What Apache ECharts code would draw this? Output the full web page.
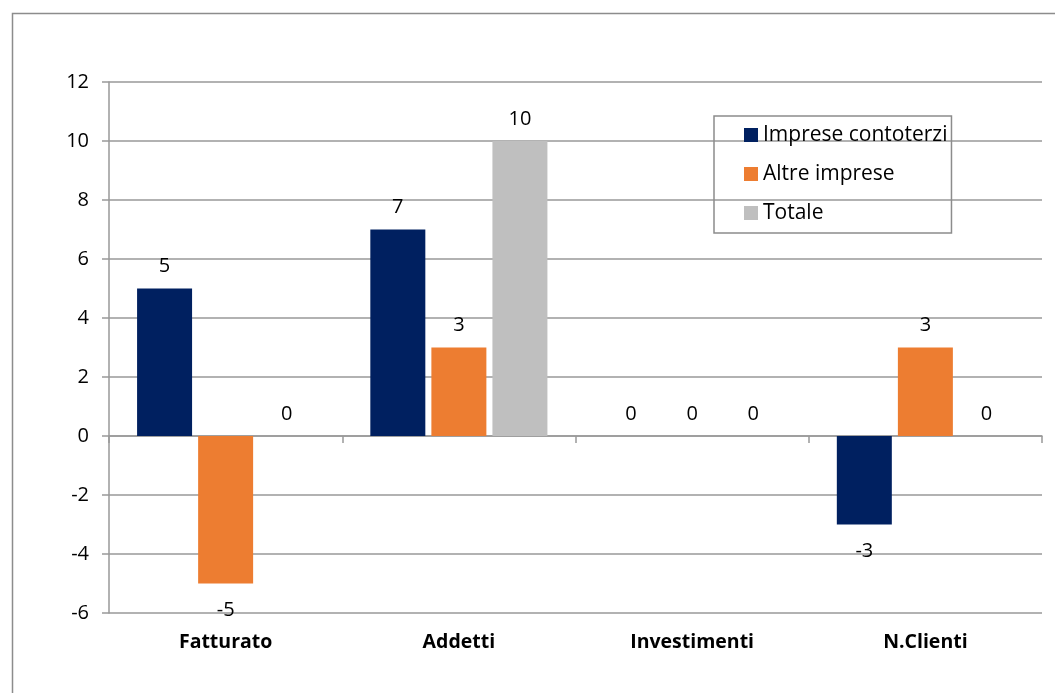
<!DOCTYPE html>
<html>
<head>
<meta charset="utf-8">
<script src="https://cdn.jsdelivr.net/npm/echarts@6/dist/echarts.min.js"></script>
<style>
html,body{margin:0;padding:0;background:#fff;}
#chart{width:1055px;height:693px;}
</style>
</head>
<body>
<div id="chart"></div>
<script>
const categories = ['Fatturato', 'Addetti', 'Investimenti', 'N.Clienti'];
const contoterzi = [5, 7, 0, -3];
const altre = [-5, 3, 0, 3];
const totale = [0, 10, 0, 0];
const seriesNames = ['Imprese contoterzi', 'Altre imprese', 'Totale'];
const yMin = -6, yMax = 12, yStep = 2;

const FONT = '"Open Sans", sans-serif';

function mkData(vals) {
  return vals.map(v => ({
    value: v,
    label: { position: v < 0 ? 'bottom' : 'top', distance: v < 0 ? 17 : 12 }
  }));
}
function mkSeries(name, vals, color) {
  return {
    name: name, type: 'bar', xAxisIndex: 0, data: mkData(vals),
    barWidth: 55, barGap: '11%',
    itemStyle: { color: color },
    label: { show: true, color: '#000', fontSize: 20, fontFamily: FONT }
  };
}

const chart = echarts.init(document.getElementById('chart'), null, { renderer: 'canvas' });
chart.setOption({
  backgroundColor: '#fff',
  animation: false,
  graphic: [{
    type: 'rect', left: 10, top: 11, shape: { width: 1100, height: 720 },
    style: { fill: 'none', stroke: '#8c8c8c', lineWidth: 1.5 }, silent: true, z: -10
  }],
  grid: { left: 109, right: 13, top: 82, bottom: 80 },
  legend: {
    orient: 'vertical', left: 714, top: 116,
    padding: [8, 4, 9, 30],
    itemWidth: 14, itemHeight: 14, itemGap: 17,
    borderColor: '#8c8c8c', borderWidth: 1.5,
    icon: 'rect',
    textStyle: { fontSize: 21, fontFamily: FONT, color: '#000', lineHeight: 22 },
    data: seriesNames
  },
  xAxis: [{
    type: 'category', data: categories, position: 'bottom',
    axisLine: { show: false, onZero: false }, axisTick: { show: false },
    axisLabel: { fontSize: 19.5, fontWeight: 'bold', fontFamily: FONT, color: '#000', margin: 19 }
  }, {
    type: 'category', data: categories, position: 'bottom',
    axisLine: { show: true, onZero: true, lineStyle: { color: '#999', width: 1.5 } },
    axisTick: { show: true, length: 7, lineStyle: { color: '#999', width: 1.5 } },
    axisLabel: { show: false }
  }],
  yAxis: {
    type: 'value', min: yMin, max: yMax, interval: yStep,
    axisLine: { show: true, lineStyle: { color: '#999', width: 1.5 } },
    axisTick: { show: true, length: 7, lineStyle: { color: '#999', width: 1.5 } },
    splitLine: { show: true, lineStyle: { color: '#999', width: 1.5 } },
    axisLabel: { fontSize: 20, fontFamily: FONT, color: '#000', margin: 20 }
  },
  series: [
    mkSeries(seriesNames[0], contoterzi, '#002060'),
    mkSeries(seriesNames[1], altre, '#ED7D31'),
    mkSeries(seriesNames[2], totale, '#BFBFBF')
  ]
});
</script>
</body>
</html>
